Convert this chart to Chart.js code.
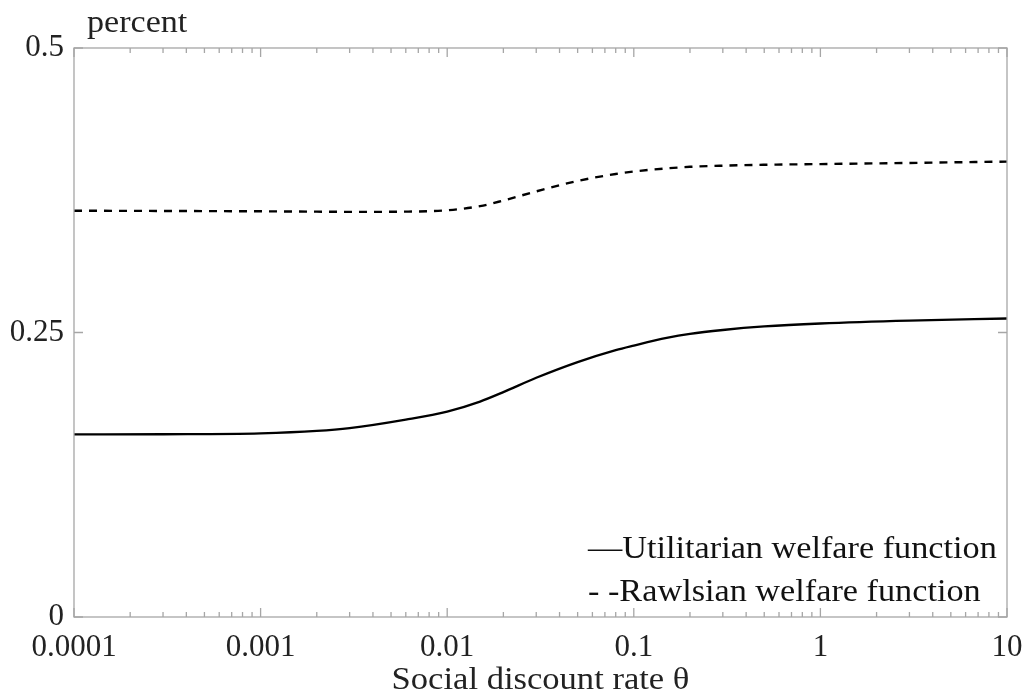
<!DOCTYPE html>
<html>
<head>
<meta charset="utf-8">
<script src="https://cdn.jsdelivr.net/npm/chart.js@4.4.1/dist/chart.umd.min.js"></script>
<style>
    html, body { margin: 0; padding: 0; background: #fff; }
    #wrap { width: 1022px; height: 697px; position: relative; }
</style>
</head>
<body>
<div id="wrap"><canvas id="chart"></canvas></div>
<script>
// Social discount rate theta (x values, log axis)
const thetaValues = [0.0001, 0.0003, 0.001, 0.002, 0.003, 0.006, 0.01, 0.015, 0.02, 0.03, 0.05, 0.08, 0.1, 0.15, 0.2, 0.3, 0.5, 1, 3, 10];

// percent
const utilitarian = [0.1604, 0.1606, 0.1614, 0.1635, 0.166, 0.1735, 0.1805, 0.1893, 0.1976, 0.2102, 0.224, 0.2345, 0.2385, 0.2452, 0.2488, 0.2522, 0.2553, 0.2579, 0.2605, 0.2623];
const rawlsian = [0.357, 0.3568, 0.3565, 0.3562, 0.356, 0.3562, 0.3574, 0.361, 0.366, 0.374, 0.3832, 0.3893, 0.3915, 0.3942, 0.3956, 0.3966, 0.3974, 0.398, 0.399, 0.4002];

const seriesLabels = ['Utilitarian welfare function', 'Rawlsian welfare function'];
const legendMarks = ['\u2014', '- -'];

// tick labels
const xDecades = [0.0001, 0.001, 0.01, 0.1, 1, 10];
const yTicks = [0, 0.25, 0.5];

const serif = "'Liberation Serif', 'DejaVu Serif', serif";
const frameColor = '#a6a6a6';

function toPoints(ys) {
    return thetaValues.map((x, i) => ({ x: x, y: ys[i] }));
}

// all 1..9 x 10^n ticks between the first and last decade
function logTicks() {
    const out = [];
    for (let d = 0; d < xDecades.length; d++) {
        const base = xDecades[d];
        if (d === xDecades.length - 1) { out.push(base); break; }
        for (let m = 1; m < 10; m++) out.push(base * m);
    }
    return out;
}

// text stretched a little to get closer to the wide TeX serif
function wideText(ctx, text, x, y, stretch) {
    ctx.save();
    ctx.translate(x, y);
    ctx.scale(stretch, 1);
    ctx.fillText(text, 0, 0);
    ctx.restore();
}

// frame, inward ticks, "percent", axis title and the legend
const framePlugin = {
    id: 'frame',
    afterDatasetsDraw(chart) {
        const ctx = chart.ctx;
        const area = chart.chartArea;
        const xs = chart.scales.x;
        const ys = chart.scales.y;
        ctx.save();
        ctx.strokeStyle = frameColor;
        ctx.lineWidth = 1.3;
        ctx.strokeRect(area.left, area.top, area.right - area.left, area.bottom - area.top);

        ctx.beginPath();
        logTicks().forEach(v => {
            const px = xs.getPixelForValue(v);
            const major = xDecades.includes(v);
            const len = major ? 9 : 5;
            ctx.moveTo(px, area.bottom);
            ctx.lineTo(px, area.bottom - len);
            ctx.moveTo(px, area.top);
            ctx.lineTo(px, area.top + len);
        });
        yTicks.forEach(v => {
            const py = ys.getPixelForValue(v);
            ctx.moveTo(area.left, py);
            ctx.lineTo(area.left + 9, py);
            ctx.moveTo(area.right, py);
            ctx.lineTo(area.right - 9, py);
        });
        ctx.stroke();

        ctx.fillStyle = '#222';
        ctx.textBaseline = 'alphabetic';
        ctx.textAlign = 'left';
        ctx.font = '31px ' + serif;
        wideText(ctx, 'percent', area.left + 13, 32, 1.1);

        // x axis title
        ctx.font = '32px ' + serif;
        const title = 'Social discount rate \u03b8';
        const tw = ctx.measureText(title).width * 1.08;
        wideText(ctx, title, (area.left + area.right) / 2 - tw / 2, 689, 1.08);

        // legend, bottom right inside the plot
        ctx.fillStyle = '#111';
        ctx.font = '32px ' + serif;
        wideText(ctx, legendMarks[0] + seriesLabels[0], 588, 558, 1.07);
        wideText(ctx, legendMarks[1] + seriesLabels[1], 588, 601, 1.07);
        ctx.restore();
    }
};

new Chart(document.getElementById('chart'), {
    type: 'line',
    data: {
        datasets: [
            {
                label: seriesLabels[0],
                data: toPoints(utilitarian),
                borderColor: '#000',
                borderWidth: 2.3,
                pointRadius: 0,
                cubicInterpolationMode: 'monotone',
                fill: false
            },
            {
                label: seriesLabels[1],
                data: toPoints(rawlsian),
                borderColor: '#000',
                borderWidth: 2.4,
                borderDash: [8, 7],
                pointRadius: 0,
                cubicInterpolationMode: 'monotone',
                fill: false
            }
        ]
    },
    options: {
        responsive: true,
        maintainAspectRatio: false,
        animation: false,
        layout: { padding: { top: 48, right: 15, left: 0, bottom: 0 } },
        plugins: {
            legend: { display: false },
            tooltip: { enabled: false }
        },
        scales: {
            x: {
                type: 'logarithmic',
                min: xDecades[0],
                max: xDecades[xDecades.length - 1],
                afterBuildTicks(scale) {
                    scale.ticks = logTicks().map(v => ({ value: v, major: xDecades.includes(v) }));
                },
                afterFit(scale) {
                    scale.height = 80;
                    // let the "10" label hang past the plot edge like the original
                    scale.paddingRight = 0;
                    scale.paddingLeft = 0;
                },
                grid: { display: false, drawTicks: false },
                border: { display: false },
                ticks: {
                    autoSkip: false,
                    maxRotation: 0,
                    padding: 12,
                    color: '#222',
                    font: { family: serif, size: 31 },
                    callback(value) {
                        return xDecades.includes(value) ? String(value) : '';
                    }
                }
            },
            y: {
                min: 0,
                max: 0.5,
                afterBuildTicks(scale) {
                    scale.ticks = yTicks.map(v => ({ value: v }));
                },
                afterFit(scale) { scale.width = 74; },
                grid: { display: false, drawTicks: false },
                border: { display: false },
                ticks: {
                    padding: 10,
                    color: '#222',
                    font: { family: serif, size: 31 },
                    callback(value) { return String(value); }
                }
            }
        }
    },
    plugins: [framePlugin]
});
</script>
</body>
</html>
